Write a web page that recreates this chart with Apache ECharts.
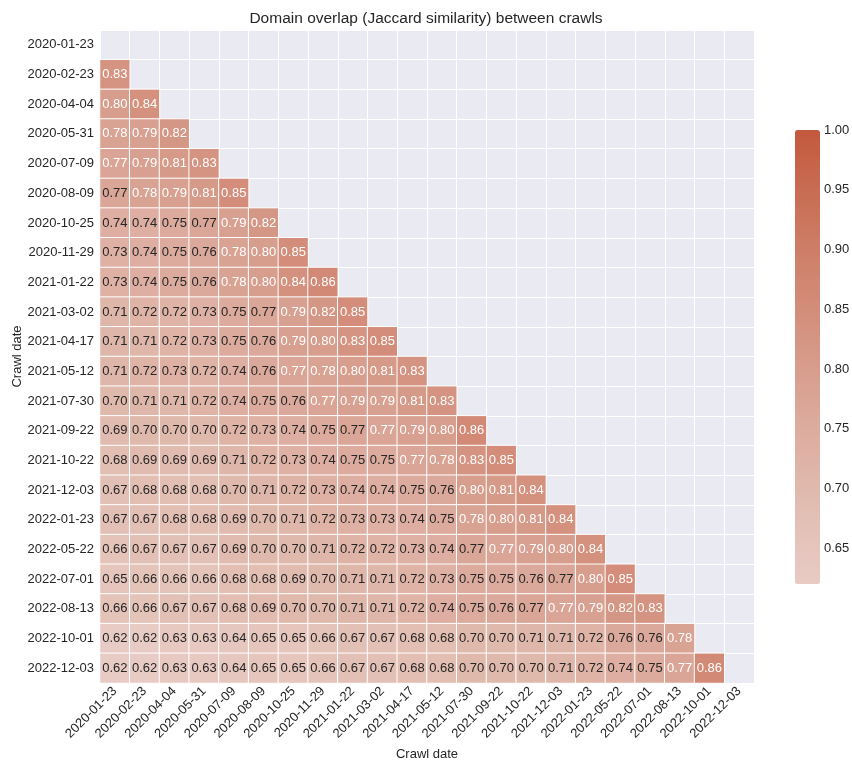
<!DOCTYPE html>
<html>
<head>
<meta charset="utf-8">
<script src="https://cdn.jsdelivr.net/npm/echarts@6/dist/echarts.min.js"></script>
<style>html,body{margin:0;padding:0;background:#fff}#c{width:852px;height:764px}</style>
</head>
<body>
<div id="c"></div>
<script>
const crawlDates = ['2020-01-23','2020-02-23','2020-04-04','2020-05-31','2020-07-09','2020-08-09','2020-10-25','2020-11-29','2021-01-22','2021-03-02','2021-04-17','2021-05-12','2021-07-30','2021-09-22','2021-10-22','2021-12-03','2022-01-23','2022-05-22','2022-07-01','2022-08-13','2022-10-01','2022-12-03'];

// lower triangle: row i holds similarity with columns 0..i-1
const similarity = [
  [],
  [0.83],
  [0.80,0.84],
  [0.78,0.79,0.82],
  [0.772,0.79,0.81,0.83],
  [0.768,0.78,0.79,0.81,0.85],
  [0.74,0.74,0.75,0.768,0.79,0.82],
  [0.73,0.74,0.75,0.76,0.78,0.80,0.85],
  [0.73,0.74,0.75,0.76,0.78,0.80,0.84,0.86],
  [0.71,0.72,0.72,0.73,0.75,0.768,0.79,0.82,0.85],
  [0.71,0.71,0.72,0.73,0.75,0.76,0.79,0.80,0.83,0.85],
  [0.71,0.72,0.73,0.72,0.74,0.76,0.772,0.78,0.80,0.81,0.83],
  [0.70,0.71,0.71,0.72,0.74,0.75,0.76,0.772,0.79,0.79,0.81,0.83],
  [0.69,0.70,0.70,0.70,0.72,0.73,0.74,0.75,0.768,0.772,0.79,0.80,0.86],
  [0.68,0.69,0.69,0.69,0.71,0.72,0.73,0.74,0.75,0.75,0.772,0.78,0.83,0.85],
  [0.67,0.68,0.68,0.68,0.70,0.71,0.72,0.73,0.74,0.74,0.75,0.76,0.80,0.81,0.84],
  [0.67,0.67,0.68,0.68,0.69,0.70,0.71,0.72,0.73,0.73,0.74,0.75,0.78,0.80,0.81,0.84],
  [0.66,0.67,0.67,0.67,0.69,0.70,0.70,0.71,0.72,0.72,0.73,0.74,0.768,0.772,0.79,0.80,0.84],
  [0.65,0.66,0.66,0.66,0.68,0.68,0.69,0.70,0.71,0.71,0.72,0.73,0.75,0.75,0.76,0.768,0.80,0.85],
  [0.66,0.66,0.67,0.67,0.68,0.69,0.70,0.70,0.71,0.71,0.72,0.74,0.75,0.76,0.768,0.772,0.79,0.82,0.83],
  [0.62,0.62,0.63,0.63,0.64,0.65,0.65,0.66,0.67,0.67,0.68,0.68,0.70,0.70,0.71,0.71,0.72,0.76,0.76,0.78],
  [0.62,0.62,0.63,0.63,0.64,0.65,0.65,0.66,0.67,0.67,0.68,0.68,0.70,0.70,0.70,0.71,0.72,0.74,0.75,0.772,0.86]
];

const colorbarTicks = [0.65,0.70,0.75,0.80,0.85,0.90,0.95,1.00];
const colorMin = 0.62, colorMax = 1.00;

const TXT = '#262626';
const FONT = '"Liberation Sans", Arial, sans-serif';

const heatData = [];
similarity.forEach((row, r) => {
  row.forEach((v, c) => {
    heatData.push({
      value: [c, r, v],
      label: { color: v > 0.77 ? '#ffffff' : TXT }
    });
  });
});

const chart = echarts.init(document.getElementById('c'), null, {renderer: 'canvas'});
chart.setOption({
  backgroundColor: '#ffffff',
  animation: false,
  textStyle: { fontFamily: FONT },
  title: {
    text: 'Domain overlap (Jaccard similarity) between crawls',
    left: 'center', top: 6,
    textStyle: { fontSize: 15.5, fontWeight: 'normal', color: TXT, fontFamily: FONT }
  },
  grid: [
    { left: 100, top: 30, width: 654, height: 653, show: true, backgroundColor: '#eaeaf2', borderWidth: 0, outerBoundsMode: 'none', containLabel: false },
    { left: 795, top: 130, width: 25, height: 454, show: false, outerBoundsMode: 'none', containLabel: false }
  ],
  xAxis: [
    {
      type: 'category', data: crawlDates, gridIndex: 0,
      name: 'Crawl date', nameLocation: 'middle', nameGap: 62,
      nameTextStyle: { fontSize: 13, color: TXT, fontFamily: FONT },
      axisLine: { show: false }, axisTick: { show: false },
      axisLabel: { rotate: 45, interval: 0, fontSize: 13, color: TXT, margin: 6, fontFamily: FONT },
      splitLine: { show: true, interval: 0, lineStyle: { color: '#ffffff', width: 1 } }
    },
    { type: 'category', data: [''], gridIndex: 1, show: false }
  ],
  yAxis: [
    {
      type: 'category', data: crawlDates, gridIndex: 0, inverse: true,
      axisLine: { show: false }, axisTick: { show: false },
      axisLabel: { interval: 0, fontSize: 13, color: TXT, margin: 6, fontFamily: FONT },
      splitLine: { show: true, interval: 0, lineStyle: { color: '#ffffff', width: 1 } }
    },
    {
      type: 'value', gridIndex: 1, min: colorMin, max: colorMax, position: 'right',
      axisLine: { show: false }, axisTick: { show: false }, splitLine: { show: false },
      axisLabel: {
        customValues: colorbarTicks, margin: 4, fontSize: 13, color: TXT, fontFamily: FONT,
        formatter: v => v.toFixed(2)
      }
    },
    {
      type: 'category', data: crawlDates, gridIndex: 0, inverse: true, position: 'left',
      name: 'Crawl date', nameLocation: 'middle', nameGap: 76, nameRotate: 90,
      nameTextStyle: { fontSize: 13, color: TXT, fontFamily: FONT },
      axisLine: { show: false }, axisTick: { show: false },
      axisLabel: { show: false }, splitLine: { show: false }
    }
  ],
  visualMap: {
    type: 'continuous', seriesIndex: 0, dimension: 2,
    min: colorMin, max: colorMax, calculable: false,
    orient: 'vertical', left: 795, top: 130, itemWidth: 25, itemHeight: 454,
    padding: 0, text: null, showLabel: false,
    inRange: { color: ['#e8cbc4','#e3c1b7','#dfb5a9','#dba89a','#d69a89','#d28b77','#cd7c65','#c86b52','#c3593c'] }
  },
  series: [
    {
      type: 'heatmap', xAxisIndex: 0, yAxisIndex: 0, data: heatData,
      itemStyle: { borderColor: '#ffffff', borderWidth: 1 },
      label: {
        show: true, fontSize: 13, fontFamily: FONT,
        formatter: p => p.value[2].toFixed(2)
      },
      emphasis: { disabled: true }
    },
    { type: 'scatter', xAxisIndex: 1, yAxisIndex: 1, data: [], silent: true }
  ]
});
</script>
</body>
</html>
